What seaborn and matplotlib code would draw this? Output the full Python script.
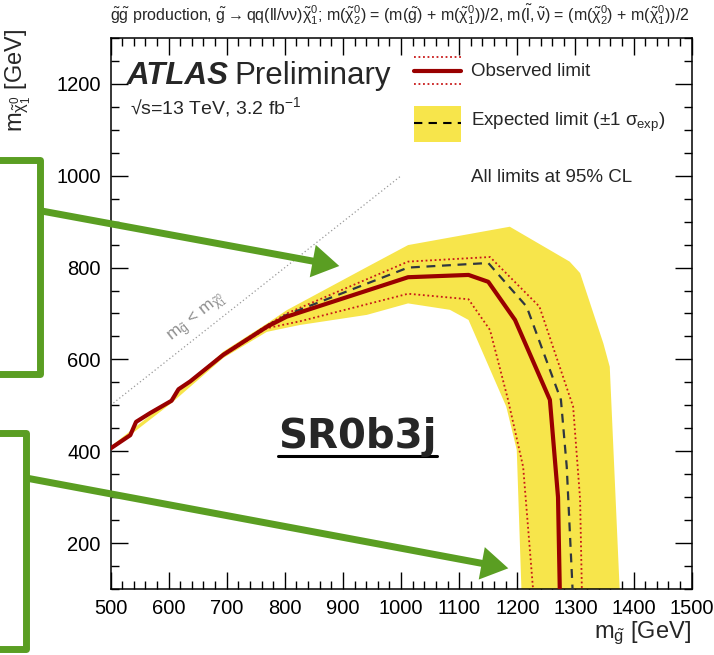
import matplotlib
matplotlib.use("Agg")
import matplotlib.pyplot as plt
import seaborn as sns
from matplotlib.ticker import MultipleLocator
from matplotlib.patches import FancyArrow, Rectangle
from matplotlib.lines import Line2D

# ---- exclusion contours: (m_gluino, m_neutralino) in GeV ----
obs_x = [500, 534, 544, 568, 605, 617, 637, 694, 769, 803, 1012, 1116, 1150, 1196, 1256, 1270, 1273]
obs_y = [406, 435, 464, 483, 510, 535, 552, 610, 671, 693, 779, 784, 769, 686, 512, 300, 100]

obs_up_x = [500, 534, 544, 568, 605, 617, 637, 694, 769, 803, 1012, 1153, 1238, 1296, 1308, 1311]
obs_up_y = [407, 436, 465, 484, 511, 536, 553, 612, 674, 700, 813, 823, 715, 497, 295, 100]

obs_dn_x = [500, 534, 544, 568, 605, 617, 637, 694, 769, 826, 1012, 1116, 1153, 1184, 1210, 1227]
obs_dn_y = [405, 434, 463, 482, 509, 534, 551, 608, 668, 683, 743, 731, 664, 512, 366, 100]

exp_x = [500, 534, 544, 568, 605, 617, 637, 694, 769, 803, 1012, 1150, 1216, 1275, 1285, 1295]
exp_y = [406, 435, 464, 483, 510, 535, 552, 611, 673, 697, 800, 810, 715, 512, 366, 100]

band_up_x = [500, 605, 694, 769, 803, 941, 1012, 1187, 1290, 1308, 1348, 1359, 1376]
band_up_y = [410, 515, 617, 678, 707, 801, 849, 889, 813, 788, 635, 584, 100]
band_dn_x = [1207, 1199, 1181, 1116, 1084, 1012, 941, 826, 769, 694, 605, 500]
band_dn_y = [100, 403, 497, 686, 708, 722, 697, 675, 660, 603, 505, 402]

x_ticks = [500, 600, 700, 800, 900, 1000, 1100, 1200, 1300, 1400, 1500]
y_ticks = [200, 400, 600, 800, 1000, 1200]

# ---- style ----
sns.set_theme(style="white")
plt.rcParams['font.family'] = ['Liberation Sans', 'DejaVu Sans']
plt.rcParams['mathtext.fontset'] = 'custom'
plt.rcParams['mathtext.rm'] = 'Liberation Sans'
plt.rcParams['mathtext.it'] = 'Liberation Sans'
plt.rcParams['mathtext.bf'] = 'Liberation Sans:bold'
plt.rcParams['mathtext.sf'] = 'Liberation Sans'

YELLOW = "#f7e54b"
DARKRED = "#990000"
DOTRED = "#c81818"
EXPCOL = "#2f3640"
GREEN = "#5a9e22"

W, H = 714, 655
fig = plt.figure(figsize=(W / 100, H / 100), dpi=100)
ax = fig.add_axes([110.5 / W, 1 - 589 / H, (691.7 - 110.5) / W, (589 - 38) / H])

# expected +-1 sigma band
ax.fill(band_up_x + band_dn_x, band_up_y + band_dn_y, color=YELLOW, lw=0, zorder=1)

# kinematic boundary
ax.plot([500, 1000], [500, 1000], color="#999999", ls=(0, (1, 2)), lw=0.9, zorder=1)

sns.lineplot(x=obs_up_x, y=obs_up_y, sort=False, estimator=None, ax=ax,
             color=DOTRED, lw=1.3, linestyle=(0, (1, 1.5)), zorder=2)
sns.lineplot(x=obs_dn_x, y=obs_dn_y, sort=False, estimator=None, ax=ax,
             color=DOTRED, lw=1.3, linestyle=(0, (1, 1.5)), zorder=2)
sns.lineplot(x=exp_x, y=exp_y, sort=False, estimator=None, ax=ax,
             color=EXPCOL, lw=1.6, linestyle=(0, (4, 3)), zorder=3)
sns.lineplot(x=obs_x, y=obs_y, sort=False, estimator=None, ax=ax,
             color=DARKRED, lw=3.0, zorder=4)

ax.set_xlim(500, 1500)
ax.set_ylim(100, 1300)
ax.set_xticks(x_ticks)
ax.set_yticks(y_ticks)
ax.xaxis.set_minor_locator(MultipleLocator(20))
ax.yaxis.set_minor_locator(MultipleLocator(50))
ax.tick_params(which='both', direction='in', top=True, right=True,
               bottom=True, left=True, colors='black', width=1.0, labelsize=14.5)
ax.tick_params(which='major', length=12, pad=7)
ax.tick_params(which='minor', length=6)
for s in ax.spines.values():
    s.set_color('black')
    s.set_linewidth(1.1)
ax.set_xlabel("")
ax.set_ylabel("")

# ---- overlay in pixel coordinates ----
ov = fig.add_axes([0, 0, 1, 1], zorder=10)
ov.set_xlim(0, W)
ov.set_ylim(H, 0)
ov.axis('off')
ov.patch.set_alpha(0)

fig.text(400 / W, 1 - 15 / H,
         r"$\tilde{\mathrm{g}}\tilde{\mathrm{g}}$ production, $\tilde{\mathrm{g}}\rightarrow$qq(ll/$\nu\nu$)$\tilde{\chi}^{0}_{1}$; "
         r"m($\tilde{\chi}^{0}_{2}$) = (m($\tilde{\mathrm{g}}$) + m($\tilde{\chi}^{0}_{1}$))/2, "
         r"m($\tilde{\mathrm{l}},\tilde{\nu}$) = (m($\tilde{\chi}^{0}_{2}$) + m($\tilde{\chi}^{0}_{1}$))/2",
         ha='center', va='center', fontsize=11.5)

fig.text(18 / W, 1 - 28 / H, r"m$_{\tilde{\chi}^{0}_{1}}$ [GeV]", rotation=90,
         ha='center', va='top', fontsize=17)
fig.text(691 / W, 1 - 633 / H, r"m$_{\tilde{\mathrm{g}}}$ [GeV]",
         ha='right', va='center', fontsize=17)

ov.text(127, 84, "ATLAS", fontsize=22.5, fontweight='bold', fontstyle='italic', va='baseline')
ov.text(234, 84, "Preliminary", fontsize=22.5, va='baseline')
ov.text(130, 114, "√s=13 TeV, 3.2 fb$^{-1}$", fontsize=14, va='baseline')

# legend keys
ov.add_line(Line2D([414, 461], [57, 57], color=DOTRED, lw=1.3, ls=(0, (1, 1.5))))
ov.add_line(Line2D([414, 461], [84, 84], color=DOTRED, lw=1.3, ls=(0, (1, 1.5))))
ov.add_line(Line2D([414, 461], [71, 71], color=DARKRED, lw=3.0))
ov.add_patch(Rectangle((414, 105.7), 47, 36, color=YELLOW, lw=0))
ov.add_line(Line2D([414, 461], [123, 123], color='black', lw=1.5, ls=(0, (4, 3))))
ov.text(471, 72, "Observed limit", fontsize=13.5, va='center')
ov.text(471, 122, r"Expected limit ($\pm$1 $\sigma_{\mathrm{exp}}$)", fontsize=13.5, va='center')
ov.text(471, 177, "All limits at 95% CL", fontsize=13.5, va='center')

ov.text(197, 318, r"m$_{\tilde{\mathrm{g}}}$ < m$_{\tilde{\chi}^{0}_{1}}$", color="#8c8c8c",
        fontsize=12.5, rotation=38.3, rotation_mode='anchor', ha='center', va='center')

# region label
ov.text(357, 448, "SR0b3j", fontsize=29, fontweight='bold', family='DejaVu Sans',
        ha='center', va='baseline')
ov.add_line(Line2D([278, 437], [456, 456], color='black', lw=2.2))

# callout boxes and arrows
for (top, right, bottom) in [(160, 40, 374), (432.7, 26, 649)]:
    ov.add_line(Line2D([-20, right, right, -20], [top, top, bottom, bottom],
                       color=GREEN, lw=5.0, solid_joinstyle='round', clip_on=False))
for (x0, y0, x1, y1) in [(40, 210.7, 339.3, 266), (26, 478, 508.3, 568.3)]:
    ov.add_patch(FancyArrow(x0, y0, x1 - x0, y1 - y0, width=7, head_width=33,
                            head_length=27, length_includes_head=True,
                            color=GREEN, lw=0))

fig.savefig("out.png", dpi=100)
